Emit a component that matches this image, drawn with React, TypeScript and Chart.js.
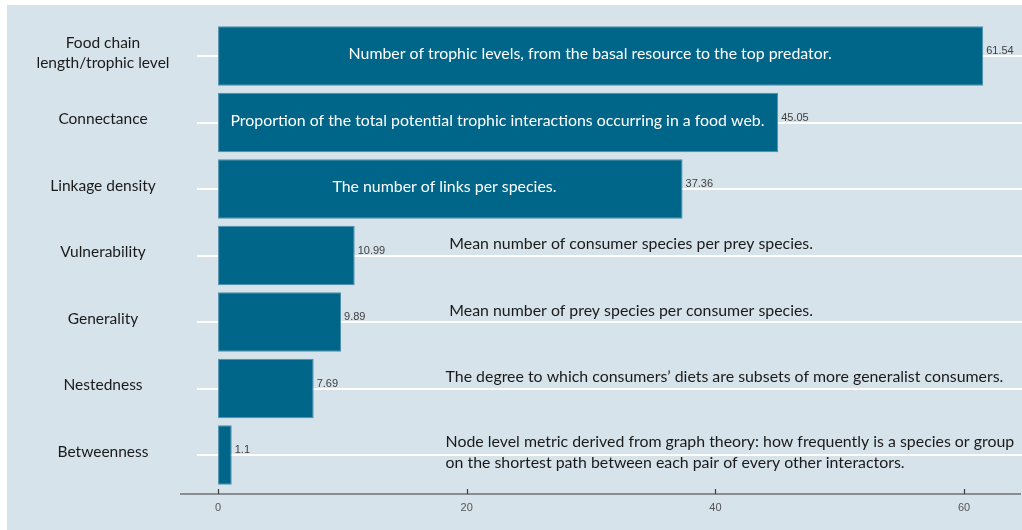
import React, { useEffect, useRef } from "react";
import { Chart, registerables } from "chart.js";

Chart.register(...registerables);

const categories: (string | string[])[] = [
  ["Food chain", "length/trophic level"],
  "Connectance",
  "Linkage density",
  "Vulnerability",
  "Generality",
  "Nestedness",
  "Betweenness",
];
const values: number[] = [61.54, 45.05, 37.36, 10.99, 9.89, 7.69, 1.1];
const valueLabels: string[] = ["61.54", "45.05", "37.36", "10.99", "9.89", "7.69", "1.1"];
const descriptions: string[][] = [
  ["Number of trophic levels, from the basal resource to the top predator."],
  ["Proportion of the total potential trophic interactions occurring in a food web."],
  ["The number of links per species."],
  ["Mean number of consumer species per prey species."],
  ["Mean number of prey species per consumer species."],
  ["The degree to which consumers\u2019 diets are subsets of more generalist consumers."],
  [
    "Node level metric derived from graph theory: how frequently is a species or group",
    "on the shortest path between each pair of every other interactors.",
  ],
];
const xTicks: number[] = [0, 20, 40, 60];

// layout / style constants (not data)
const descInside = [true, true, true, false, false, false, false];
const descX = [10.5, 1.0, 9.2, 18.6, 18.6, 18.3, 18.3]; // value-units anchor of text left edge
const descDy = [-2, -2, -2, -12, -11, -12, -13];
const BG = "#d6e3eb";
const BAR = "#006689";
const SANS = "Lato, 'Open Sans', sans-serif";
const ARIAL = "'Liberation Sans', Arial, sans-serif";

function fitSize(text: string, target: number, family: string): number {
  const c = document.createElement("canvas").getContext("2d")!;
  c.font = `100px ${family}`;
  return (100 * target) / c.measureText(text).width;
}

export default function App() {
  const ref = useRef<HTMLCanvasElement | null>(null);

  useEffect(() => {
    if (!ref.current) return;
    const annotSize = fitSize(descriptions[5][0], 558, SANS);
    const catSize = fitSize("length/trophic level", 133, SANS);
    const mctx = document.createElement("canvas").getContext("2d")!;
    mctx.font = `${catSize}px ${SANS}`;
    let widest = 0;
    categories.forEach((c) => {
      (Array.isArray(c) ? c : [c]).forEach((l) => {
        widest = Math.max(widest, mctx.measureText(l).width);
      });
    });
    const yPad = 180 - 103 - widest / 2;

    const plugin = {
      id: "custom",
      beforeDraw(chart: any) {
        const ctx = chart.ctx;
        ctx.save();
        ctx.fillStyle = BG;
        ctx.fillRect(7, 5, 1015, 525);
        ctx.restore();
      },
      beforeDatasetsDraw(chart: any) {
        const ctx = chart.ctx;
        const y = chart.scales.y;
        const area = chart.chartArea;
        ctx.save();
        ctx.strokeStyle = "#ffffff";
        ctx.lineWidth = 2;
        categories.forEach((_, i) => {
          const py = Math.round(y.getPixelForValue(i));
          ctx.beginPath();
          ctx.moveTo(197, py);
          ctx.lineTo(area.right + 1, py);
          ctx.stroke();
        });
        ctx.restore();
      },
      afterDatasetsDraw(chart: any) {
        const ctx = chart.ctx;
        const x = chart.scales.x;
        const y = chart.scales.y;
        const area = chart.chartArea;
        ctx.save();
        // value labels
        ctx.font = `11px ${ARIAL}`;
        ctx.fillStyle = "#404040";
        ctx.textBaseline = "middle";
        ctx.textAlign = "left";
        values.forEach((v, i) => {
          ctx.fillText(valueLabels[i], x.getPixelForValue(v) + 3, y.getPixelForValue(i) - 5);
        });
        // descriptions
        ctx.font = `${annotSize}px ${SANS}`;
        descriptions.forEach((lines, i) => {
          ctx.fillStyle = descInside[i] ? "#ffffff" : "#1a1a1a";
          const cy = y.getPixelForValue(i) + descDy[i];
          lines.forEach((ln, j) => {
            ctx.fillText(ln, x.getPixelForValue(descX[i]), cy + j * 21);
          });
        });
        // x axis line and inward ticks
        const axisY = 494;
        ctx.strokeStyle = "#3a3a3a";
        ctx.lineWidth = 1.2;
        ctx.beginPath();
        ctx.moveTo(180, axisY);
        ctx.lineTo(area.right, axisY);
        ctx.stroke();
        xTicks.forEach((t) => {
          const px = Math.round(x.getPixelForValue(t)) + 0.5;
          ctx.beginPath();
          ctx.moveTo(px, axisY);
          ctx.lineTo(px, axisY - 5);
          ctx.stroke();
        });
        ctx.restore();
      },
    };

    const chart = new Chart(ref.current, {
      type: "bar",
      data: {
        labels: categories as any,
        datasets: [
          {
            data: values,
            backgroundColor: BAR,
            borderColor: "#4f8fab",
            borderWidth: 1,
            borderSkipped: false,
            categoryPercentage: 1,
            barPercentage: 0.895,
          },
        ],
      },
      options: {
        indexAxis: "y",
        animation: false,
        responsive: true,
        maintainAspectRatio: false,
        layout: { padding: { top: 22.75, right: 1, left: 0, bottom: 0 } },
        plugins: { legend: { display: false }, tooltip: { enabled: false } },
        scales: {
          x: {
            type: "linear",
            min: -3.06,
            max: 64.58,
            grid: { display: false, drawTicks: false },
            border: { display: false },
            afterFit: (s: any) => {
              s.height = 530 - 488.25;
            },
            afterBuildTicks: (s: any) => {
              s.ticks = xTicks.map((v) => ({ value: v }));
            },
            ticks: {
              color: "#555555",
              font: { family: ARIAL, size: 11 },
              padding: 13,
              callback: (v: any) => String(v),
            },
          },
          y: {
            type: "category",
            grid: { display: false, drawTicks: false },
            border: { display: false },
            afterFit: (s: any) => {
              s.width = 180;
            },
            ticks: {
              color: "#1a1a1a",
              font: { family: SANS, size: catSize, lineHeight: 20 / catSize },
              crossAlign: "center",
              padding: yPad,
              labelOffset: -3.5,
            },
          },
        },
      },
      plugins: [plugin],
    });
    return () => chart.destroy();
  }, []);

  return (
    <div style={{ position: "fixed", left: 0, top: 0, width: 1022, height: 530, background: "#ffffff" }}>
      <canvas ref={ref} />
    </div>
  );
}
